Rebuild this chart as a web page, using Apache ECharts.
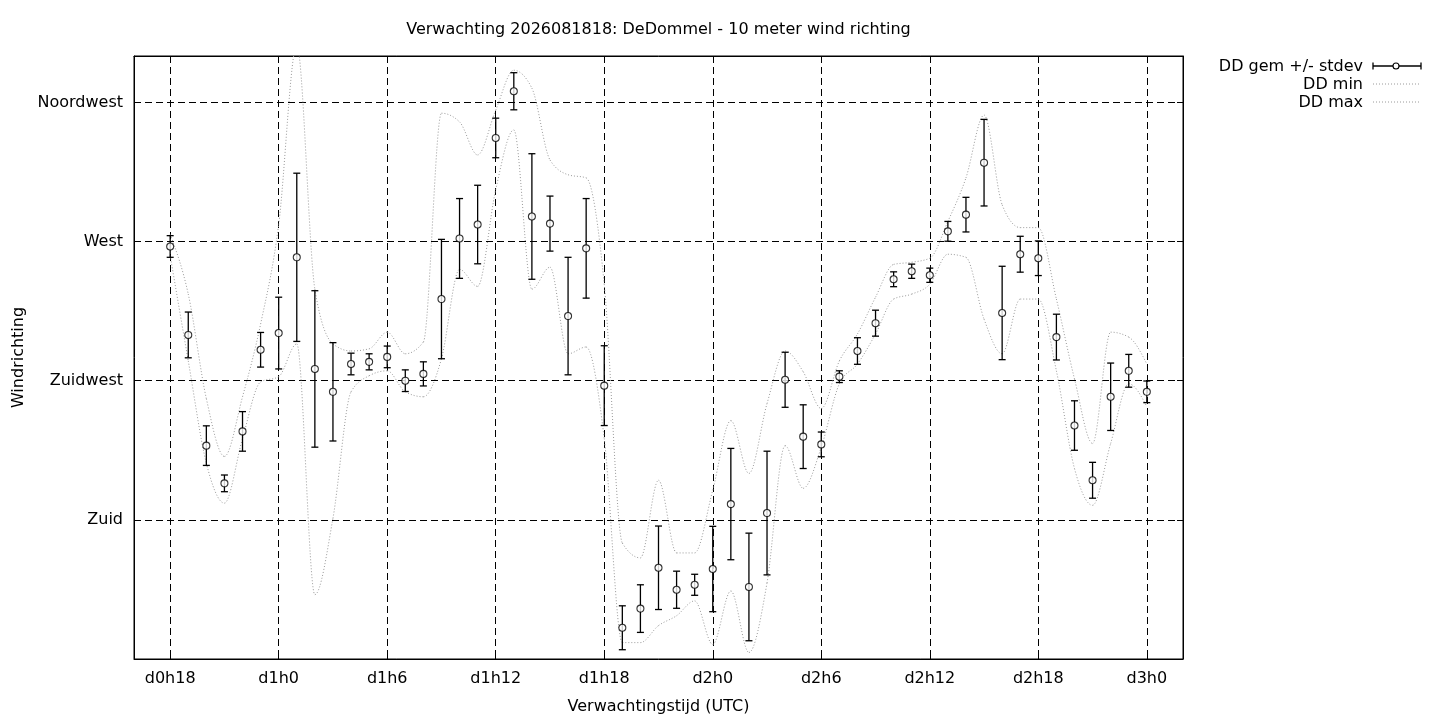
<!DOCTYPE html>
<html>
<head>
<meta charset="utf-8">
<script src="https://cdn.jsdelivr.net/npm/echarts@6/dist/echarts.min.js"></script>
<style>html,body{margin:0;padding:0;background:#fff}#c{width:1440px;height:720px}</style>
</head>
<body>
<div id="c"></div>
<script>
// forecast hours (hours after d0h0)
const hours = [18,19,20,21,22,23,24,25,26,27,28,29,30,31,32,33,34,35,36,37,38,39,40,41,42,43,44,45,46,47,48,49,50,51,52,53,54,55,56,57,58,59,60,61,62,63,64,65,66,67,68,69,70,71,72];
// wind direction (degrees)
const ddMean = [268.4,239.8,204.0,191.8,208.6,235.0,240.4,264.9,228.8,221.4,
                230.4,231.1,232.7,225.0,227.2,251.4,271.0,275.5,303.5,318.6,
                278.1,275.8,245.9,267.8,223.4,145.1,151.3,164.5,157.4,159.0,
                164.1,185.1,158.3,182.2,225.3,206.9,204.4,226.3,234.6,243.6,
                257.8,260.4,259.1,273.3,278.7,295.5,246.9,265.9,264.6,239.1,
                210.5,192.8,219.8,228.2,221.4];
const ddStdev = [3.5,7.4,6.4,2.7,6.4,5.6,11.6,27.2,25.3,15.9,
                 3.5,2.6,3.5,3.5,3.9,19.3,12.9,12.7,6.4,6.0,
                 20.3,8.9,19.0,16.1,12.9,7.1,7.7,13.5,6.0,3.4,
                 13.8,18.0,17.4,20.0,8.9,10.3,4.0,1.9,4.3,4.2,
                 2.4,2.3,2.3,3.2,5.6,14.0,15.1,5.8,5.6,7.4,
                 8.0,5.8,10.9,5.3,3.5];
const ddMin = [265.5,231.4,198.3,185.4,206.3,224.6,226.3,236.9,155.8,180.5,
               221.4,226.6,228.2,221.4,219.8,232.1,261.0,255.5,286.8,306.1,
               254.6,261.7,233.7,235.9,206.3,140.3,140.3,145.8,149.0,153.8,
               139.7,157.0,137.1,159.6,204.0,190.2,203.5,224.0,230.4,240.1,
               251.4,253.0,256.2,265.9,264.9,244.9,233.7,251.4,251.4,228.2,
               196.6,184.7,204.7,224.0,216.6];
const ddMax = [272.3,253.0,219.2,200.5,219.8,243.3,275.5,333.5,254.6,236.9,
               234.6,235.3,240.7,233.7,237.5,311.5,308.7,298.0,312.5,325.4,
               319.6,296.4,291.6,290.6,256.2,172.5,167.7,192.8,169.3,169.3,
               189.6,212.1,195.0,217.6,234.6,227.9,216.0,231.4,240.1,252.0,
               262.6,263.3,264.6,276.5,290.6,310.9,281.9,274.5,274.5,251.4,
               225.6,204.7,240.7,239.1,230.4];
const xTickLabels = ['d0h18','d1h0','d1h6','d1h12','d1h18','d2h0','d2h6','d2h12','d2h18','d3h0'];
const yTickValues = [180,225,270,315];
const yTickLabels = ['Zuid','Zuidwest','West','Noordwest'];
const titleText = 'Verwachting 2026081818: DeDommel - 10 meter wind richting';
const seriesNames = ['DD gem +/- stdev','DD min','DD max'];

function hourLabel(h){ return 'd' + Math.floor(h/24) + 'h' + (h % 24); }
const axisCats = [];
for (let h = 16; h <= 74; h++) axisCats.push(hourLabel(h));
const isTick = (idx, val) => xTickLabels.indexOf(val) >= 0;

const FONT = 'DejaVu Sans';
const FS = 16;
const FONTSTR = FS + 'px "' + FONT + '"';
const gridDash = {color:'#000', width:1, type:[7,4]};
const dotColor = '#9a9a9a';

// monotone cubic tangents (uniform spacing, per step) for curve rendering
function monoSlopes(ys){
  const n = ys.length - 1;
  const m = new Array(n + 1).fill(0);
  const sgn = v => v < 0 ? -1 : (v > 0 ? 1 : 0);
  for (let i = 1; i < n; i++){
    const s0 = ys[i] - ys[i-1], s1 = ys[i+1] - ys[i];
    const p = (s0 + s1) / 2;
    m[i] = (sgn(s0) + sgn(s1)) * Math.min(Math.abs(s0), Math.abs(s1), 0.5 * Math.abs(p)) || 0;
  }
  m[0] = (3 * (ys[1] - ys[0]) - m[1]) / 2;
  m[n] = (3 * (ys[n] - ys[n-1]) - m[n-1]) / 2;
  return m;
}

function curveSeries(name, values){
  return {
    name:name, type:'custom', xAxisIndex:0, yAxisIndex:0, z:2, clip:true,
    data:hours.map((h,i) => [hourLabel(h), values[i]]),
    encode:{x:0, y:1},
    renderItem:function(params, api){
      const i = params.dataIndex;
      const n = values.length - 1;
      if (i >= n) return null;
      const pts = values.map((v,k) => api.coord([axisCats.indexOf(hourLabel(hours[k])), v]));
      const m = monoSlopes(pts.map(p => p[1]));
      const p0 = pts[i], p1 = pts[i+1];
      const dx = p1[0] - p0[0];
      return {
        type:'bezierCurve',
        shape:{x1:p0[0], y1:p0[1], x2:p1[0], y2:p1[1],
               cpx1:p0[0] + dx/3, cpy1:p0[1] + m[i]/3,
               cpx2:p1[0] - dx/3, cpy2:p1[1] - m[i+1]/3},
        style:{fill:null, stroke:dotColor, lineWidth:1, lineDash:[1,2]}
      };
    }
  };
}

const chart = echarts.init(document.getElementById('c'), null, {renderer:'canvas'});

const option = {
  animation:false,
  backgroundColor:'#fff',
  grid:{left:134, right:257, top:56, bottom:61, show:true, borderColor:'#000', borderWidth:1, backgroundColor:'transparent'},
  xAxis:[{
    type:'category', data:axisCats, boundaryGap:false,
    axisLine:{show:true, lineStyle:{color:'#000', width:1}},
    axisTick:{show:true, inside:true, length:6, interval:isTick, lineStyle:{color:'#000'}},
    axisLabel:{interval:isTick, color:'#000', fontFamily:FONT, fontSize:FS, margin:12},
    splitLine:{show:true, interval:isTick, lineStyle:gridDash},
    name:'Verwachtingstijd (UTC)', nameLocation:'middle', nameGap:40,
    nameTextStyle:{color:'#000', fontFamily:FONT, fontSize:FS}
  },{
    type:'category', data:axisCats, boundaryGap:false, position:'top',
    axisLine:{show:true, lineStyle:{color:'#000', width:1}},
    axisTick:{show:true, inside:true, length:6, interval:isTick, lineStyle:{color:'#000'}},
    axisLabel:{show:false}, splitLine:{show:false}
  }],
  yAxis:[{
    type:'value', min:135, max:330, interval:45,
    axisLine:{show:true, lineStyle:{color:'#000', width:1}},
    axisTick:{show:true, inside:true, length:6, lineStyle:{color:'#000'}},
    axisLabel:{color:'#000', fontFamily:FONT, fontSize:FS, margin:11,
      formatter:v => { const i = yTickValues.indexOf(v); return i >= 0 ? yTickLabels[i] : ''; }},
    splitLine:{show:true, lineStyle:gridDash},
    name:'Windrichting', nameLocation:'middle', nameGap:107,
    nameTextStyle:{color:'#000', fontFamily:FONT, fontSize:FS}
  },{
    type:'value', min:135, max:330, interval:45, position:'right',
    axisLine:{show:true, lineStyle:{color:'#000', width:1}},
    axisTick:{show:true, inside:true, length:6, lineStyle:{color:'#000'}},
    axisLabel:{show:false}, splitLine:{show:false}
  }],
  series:[
    curveSeries(seriesNames[1], ddMin),
    curveSeries(seriesNames[2], ddMax),
    {
      name:seriesNames[0], type:'custom', xAxisIndex:0, yAxisIndex:0,
      data:hours.map((h,i) => [hourLabel(h), ddMean[i], ddStdev[i]]),
      encode:{x:0, y:1}, z:3,
      renderItem:function(params, api){
        const x = api.value(0), m = api.value(1), s = api.value(2);
        const p1 = api.coord([x, m + s]);
        const p2 = api.coord([x, m - s]);
        const w = 3.5;
        const st = {stroke:'#000', lineWidth:1.3};
        return {type:'group', children:[
          {type:'line', shape:{x1:p1[0], y1:p1[1], x2:p2[0], y2:p2[1]}, style:st},
          {type:'line', shape:{x1:p1[0]-w, y1:p1[1], x2:p1[0]+w, y2:p1[1]}, style:st},
          {type:'line', shape:{x1:p2[0]-w, y1:p2[1], x2:p2[0]+w, y2:p2[1]}, style:st}
        ]};
      }
    },
    {
      name:seriesNames[0], type:'scatter', xAxisIndex:0, yAxisIndex:0,
      data:hours.map((h,i) => [hourLabel(h), ddMean[i]]),
      symbol:'circle', symbolSize:7, z:4,
      itemStyle:{color:'#fff', borderColor:'#000', borderWidth:1.1}
    }
  ],
  graphic:[
    {type:'text', x:658.5, y:30, style:{text:titleText, font:FONTSTR, fill:'#000', align:'center', verticalAlign:'middle', textAlign:'center', textVerticalAlign:'middle'}},
    {type:'text', x:1363, y:67, style:{text:seriesNames[0], font:FONTSTR, fill:'#000', align:'right', verticalAlign:'middle', textAlign:'right', textVerticalAlign:'middle'}},
    {type:'text', x:1363, y:85, style:{text:seriesNames[1], font:FONTSTR, fill:'#000', align:'right', verticalAlign:'middle', textAlign:'right', textVerticalAlign:'middle'}},
    {type:'text', x:1363, y:103, style:{text:seriesNames[2], font:FONTSTR, fill:'#000', align:'right', verticalAlign:'middle', textAlign:'right', textVerticalAlign:'middle'}},
    {type:'line', shape:{x1:1373, y1:66, x2:1421, y2:66}, style:{stroke:'#000', lineWidth:1.3}},
    {type:'line', shape:{x1:1373, y1:62.5, x2:1373, y2:69.5}, style:{stroke:'#000', lineWidth:1.3}},
    {type:'line', shape:{x1:1421, y1:62.5, x2:1421, y2:69.5}, style:{stroke:'#000', lineWidth:1.3}},
    {type:'circle', shape:{cx:1396, cy:66, r:3}, style:{fill:'#fff', stroke:'#000', lineWidth:1.1}},
    {type:'line', shape:{x1:1373, y1:84, x2:1421, y2:84}, style:{stroke:dotColor, lineWidth:1, lineDash:[1,2]}},
    {type:'line', shape:{x1:1373, y1:102, x2:1421, y2:102}, style:{stroke:dotColor, lineWidth:1, lineDash:[1,2]}}
  ]
};
chart.setOption(option);
</script>
</body>
</html>
